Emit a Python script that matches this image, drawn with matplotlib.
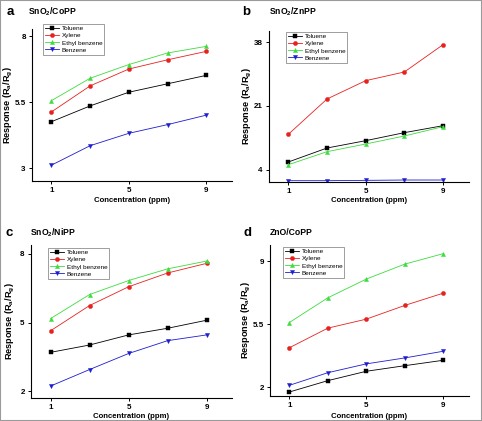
import matplotlib
matplotlib.use("Agg")
import matplotlib.pyplot as plt
from matplotlib.patches import Rectangle

plt.rcParams['font.family'] = ['Liberation Sans', 'DejaVu Sans']
plt.rcParams['mathtext.fontset'] = 'custom'
plt.rcParams['mathtext.rm'] = 'Liberation Sans'
plt.rcParams['mathtext.bf'] = 'Liberation Sans:bold'
plt.rcParams['mathtext.default'] = 'bf'

conc = [1, 3, 5, 7, 9]
series_names = ['Toluene', 'Xylene', 'Ethyl benzene', 'Benzene']

a_toluene = [4.76, 5.36, 5.88, 6.20, 6.52]
a_xylene = [5.13, 6.12, 6.76, 7.11, 7.43]
a_ethyl = [5.56, 6.41, 6.93, 7.37, 7.62]
a_benzene = [3.11, 3.85, 4.32, 4.65, 5.01]

b_toluene = [6.05, 9.78, 11.74, 13.88, 15.74]
b_xylene = [13.43, 22.86, 27.75, 30.07, 37.36]
b_ethyl = [5.33, 8.80, 10.85, 12.99, 15.48]
b_benzene = [1.06, 1.06, 1.15, 1.24, 1.24]

c_toluene = [3.70, 4.02, 4.46, 4.75, 5.10]
c_xylene = [4.64, 5.74, 6.56, 7.16, 7.58]
c_ethyl = [5.17, 6.22, 6.83, 7.34, 7.68]
c_benzene = [2.23, 2.95, 3.65, 4.21, 4.46]

d_toluene = [1.74, 2.37, 2.89, 3.20, 3.50]
d_xylene = [4.19, 5.28, 5.78, 6.54, 7.22]
d_ethyl = [5.59, 6.96, 8.00, 8.83, 9.41]
d_benzene = [2.11, 2.81, 3.30, 3.63, 4.00]

xticks = [1, 5, 9]
a_yticks = [3, 5.5, 8]
b_yticks = [4, 21, 38]
c_yticks = [2, 5, 8]
d_yticks = [2, 5.5, 9]
a_yticklabels = ['3', '5.5', '8']
b_yticklabels = ['4', '21', '38']
c_yticklabels = ['2', '5', '8']
d_yticklabels = ['2', '5.5', '9']

titles = [r'SnO$_\mathbf{2}$/CoPP', r'SnO$_\mathbf{2}$/ZnPP', r'SnO$_\mathbf{2}$/NiPP', 'ZnO/CoPP']
letters = ['a', 'b', 'c', 'd']

W, H = 482, 421
fig = plt.figure(figsize=(W / 100, H / 100), dpi=100)
fig.patch.set_facecolor('white')

colors = ['#000000', '#e8211e', '#3ddc3d', '#1c1cd0']
markers = ['s', 'o', '^', 'v']

def px_axes(l, r, t, b):
    return fig.add_axes([l / W, 1 - b / H, (r - l) / W, (b - t) / H])

panels = [
    dict(box=(32, 232, 29, 181), data=[a_toluene, a_xylene, a_ethyl, a_benzene],
         yt=a_yticks, ytl=a_yticklabels, ylim=(2.51, 8.28), xlim=(0.0, 10.33),
         title_xy=(28, 12), letter_xy=(7, 12), ylab_x=8, xlab_y=201, legloc=(43, 24)),
    dict(box=(269, 469, 31, 182), data=[b_toluene, b_xylene, b_ethyl, b_benzene],
         yt=b_yticks, ytl=b_yticklabels, ylim=(0.71, 41.0), xlim=(0.0, 10.34),
         title_xy=(269, 12), letter_xy=(242, 12), ylab_x=247, xlab_y=201, legloc=(286, 32)),
    dict(box=(31, 232, 245, 398), data=[c_toluene, c_xylene, c_ethyl, c_benzene],
         yt=c_yticks, ytl=c_yticklabels, ylim=(1.71, 8.38), xlim=(0.0, 10.3),
         title_xy=(30, 233), letter_xy=(6, 233), ylab_x=10, xlab_y=416, legloc=(48, 248)),
    dict(box=(270, 469, 245, 396), data=[d_toluene, d_xylene, d_ethyl, d_benzene],
         yt=d_yticks, ytl=d_yticklabels, ylim=(1.52, 9.89), xlim=(0.0, 10.34),
         title_xy=(270, 233), letter_xy=(243, 233), ylab_x=246, xlab_y=416, legloc=(283, 247)),
]

for i, p in enumerate(panels):
    l, r, t, b = p['box']
    ax = px_axes(l, r, t, b)
    for vals, name, c, m in zip(p['data'], series_names, colors, markers):
        ax.plot(conc, vals, color=c, marker=m, markersize=3, linewidth=0.6,
                label=name, markeredgewidth=0.3)
    ax.set_xlim(*p['xlim'])
    ax.set_ylim(*p['ylim'])
    ax.set_xticks(xticks)
    ax.set_xticklabels([str(x) for x in xticks], fontsize=5.8, fontweight='bold')
    ax.set_yticks(p['yt'])
    ax.set_yticklabels(p['ytl'], fontsize=5.8, fontweight='bold')
    ax.tick_params(direction='out', length=2.5, width=0.7, pad=2)
    ax.spines['top'].set_visible(False)
    ax.spines['right'].set_visible(False)
    ax.spines['left'].set_linewidth(0.8)
    ax.spines['bottom'].set_linewidth(0.8)
    ax.set_xlabel('Concentration (ppm)', fontsize=5.6, fontweight='bold')
    ax.xaxis.set_label_coords(0.5, -(p['xlab_y'] - b) / (b - t))
    ax.xaxis.label.set_va('center')
    ax.set_ylabel(r'Response (R$_\mathbf{a}$/R$_\mathbf{g}$)', fontsize=6.6, fontweight='bold')
    ax.yaxis.set_label_coords((p['ylab_x'] - l) / (r - l), 0.5)
    ax.yaxis.label.set_va('center')
    lx, ly = p['legloc']
    leg = ax.legend(loc='upper left', bbox_to_anchor=((lx - l) / (r - l), 1 - (ly - t) / (b - t)),
                    fontsize=4.6, frameon=True, fancybox=False, borderpad=0.3,
                    labelspacing=0.25, handlelength=2.2, handletextpad=0.4,
                    borderaxespad=0)
    leg.get_frame().set_linewidth(0.5)
    leg.get_frame().set_edgecolor('#555555')
    tx, ty = p['title_xy']
    fig.text(tx / W, 1 - ty / H, titles[i], fontsize=6.2, fontweight='bold', va='center', ha='left')
    lx2, ly2 = p['letter_xy']
    fig.text(lx2 / W, 1 - ly2 / H, letters[i], fontsize=9.5, fontweight='bold', va='center', ha='left')

fig.patches.append(Rectangle((0, 0), 1, 1, transform=fig.transFigure, fill=False,
                             edgecolor='#9a9a9a', linewidth=1.5))

fig.savefig('out.png', dpi=100)
